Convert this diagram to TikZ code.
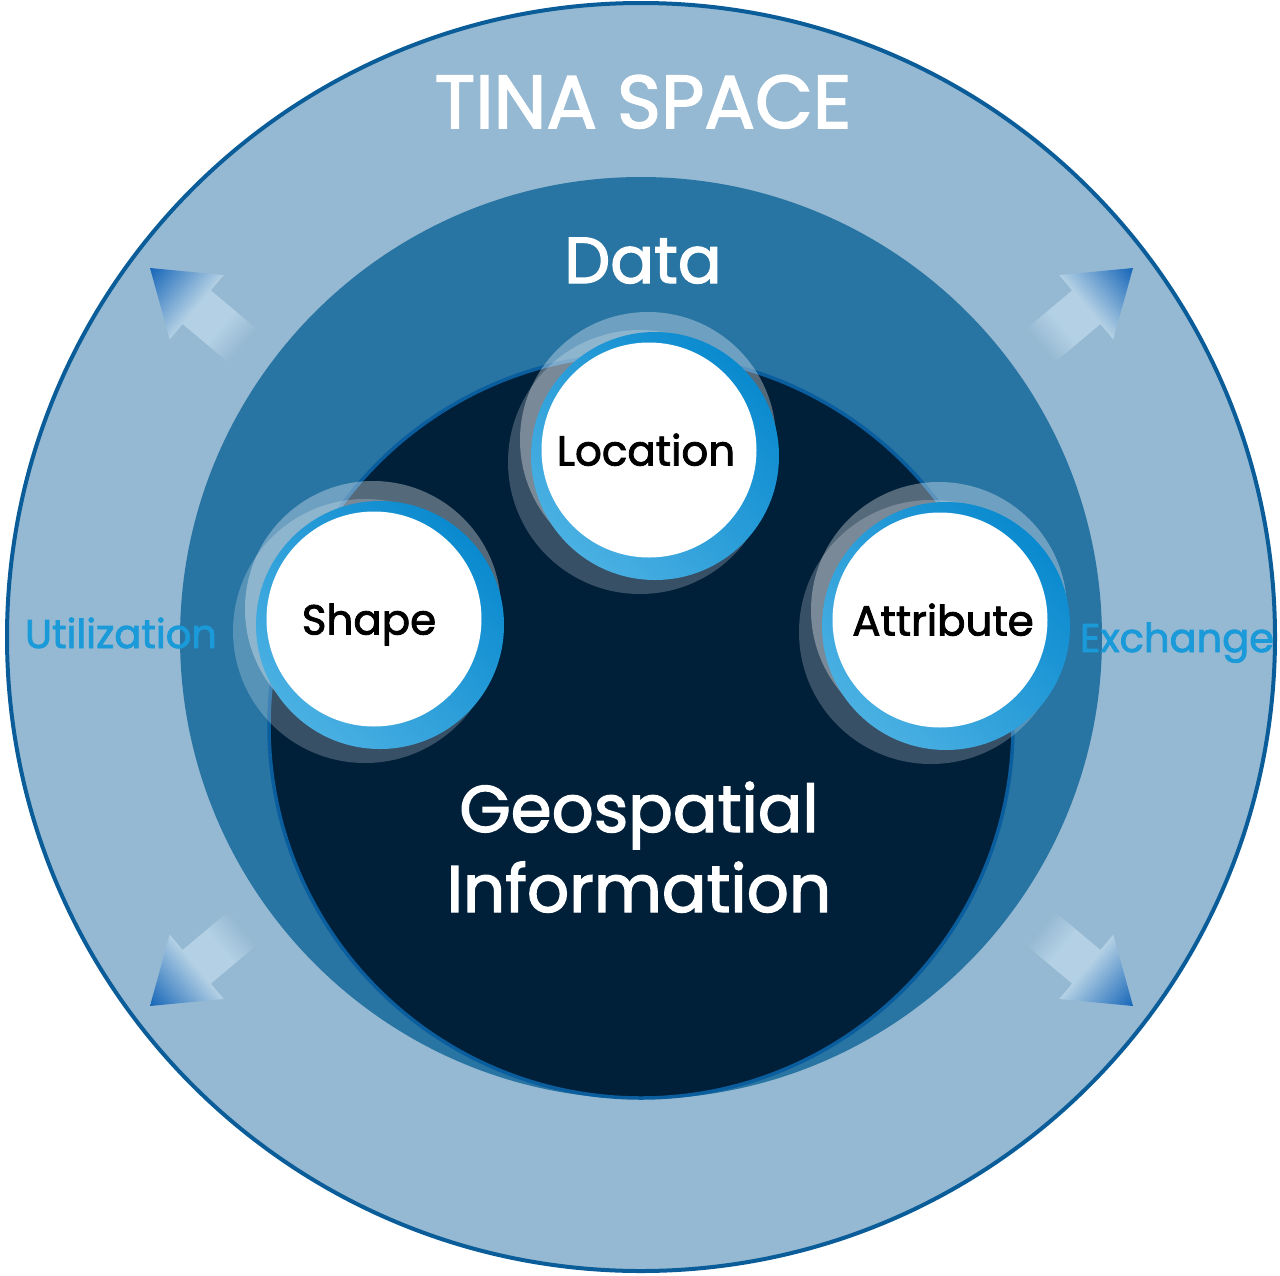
\documentclass[tikz,border=0pt]{standalone}
\usepackage{fontspec}
\setmainfont{Poppins}
\newfontfamily\popm{Poppins}[FakeBold=2]
\definecolor{outerfill}{HTML}{95B9D2}
\definecolor{outerline}{HTML}{0A5D99}
\definecolor{midfill}{HTML}{2874A3}
\definecolor{innerfill}{HTML}{00203A}
\definecolor{innerline}{HTML}{0B5E9E}
\definecolor{ringdark}{HTML}{0A8ACF}
\definecolor{ringlight}{HTML}{4AB0E2}
\definecolor{sidetext}{HTML}{1A9AD8}
\definecolor{abg}{HTML}{95B9D2}
\definecolor{alight}{HTML}{B3D0E4}
\definecolor{atip}{HTML}{1565B8}
\pgfdeclarehorizontalshading{arrowfade}{100bp}{color(0bp)=(abg); color(25bp)=(abg); color(37bp)=(alight); color(50bp)=(alight); color(75bp)=(atip); color(100bp)=(atip)}
\tikzset{
  bubble/.style={circle, fill=white, minimum size=215pt, inner sep=0pt, text=black,
    font=\popm\fontsize{42}{42}\selectfont, text height=31pt, text depth=0pt},
  titletext/.style={anchor=base, text=white, inner sep=0pt},
  sidelabel/.style={anchor=base, text=sidetext, inner sep=0pt, font=\popm\fontsize{40}{40}\selectfont}
}
\newcommand{\fadearrow}[3]{%
  \begin{scope}[transform canvas={shift={(#1,#2)},rotate=#3}]
    \shade[shading=arrowfade] (0,0) -- (-61,-42) -- (-61,-22) -- (-121,-22) -- (-121,22) -- (-61,22) -- (-61,42) -- cycle;
  \end{scope}}
\newcommand{\bubblegrp}[5]{%
  \fill[white, opacity=0.22] ({#2-9},{#3+12}) circle[radius=132];
  \fill[white, opacity=0.33] ({#2-1},{#3-10}) circle[radius=128];
  \shade[left color=ringlight, right color=ringdark, shading angle=135] ({#2+6},{#3+6}) circle[radius=124];
  \node[bubble] (#1) at (#2,#3) {\hspace*{#5pt}#4};}
\begin{document}
\begin{tikzpicture}[x=1pt,y=-1pt]
\useasboundingbox (0,0) rectangle (1280,1275);
\fill[white] (0,0) rectangle (1280,1275);
% outer ring
\filldraw[fill=outerfill, draw=outerline, line width=4pt] (641,637) circle[radius=634];
% arrows
\fadearrow{150}{268}{140}
\fadearrow{1133}{268}{40}
\fadearrow{150}{1006}{-140}
\fadearrow{1133}{1006}{-40}
% data circle
\fill[midfill] (641,638) circle[radius=461];
% geospatial circle
\filldraw[fill=innerfill, draw=innerline, line width=3.5pt] (641,726) circle[radius=372];
% titles
\node[titletext, font=\popm\fontsize{75}{75}\selectfont] (tina) at (643,128) {TINA SPACE};
\node[titletext, font=\popm\fontsize{65}{65}\selectfont] (data) at (643,283) {Data};
\node[titletext, font=\popm\fontsize{66}{66}\selectfont] (geo1) at (639,832) {Geospatial};
\node[titletext, font=\popm\fontsize{66}{66}\selectfont] (geo2) at (639,912) {Information};
\node[sidelabel] (util) at (121,648) {Utilization};
\node[sidelabel] (exch) at (1177,652) {Exchange};
% bubbles
\bubblegrp{loc}{649}{450}{Location}{-6}
\bubblegrp{shp}{374}{619}{Shape}{-10}
\bubblegrp{att}{940}{620}{Attribute}{6}
\end{tikzpicture}
\end{document}
